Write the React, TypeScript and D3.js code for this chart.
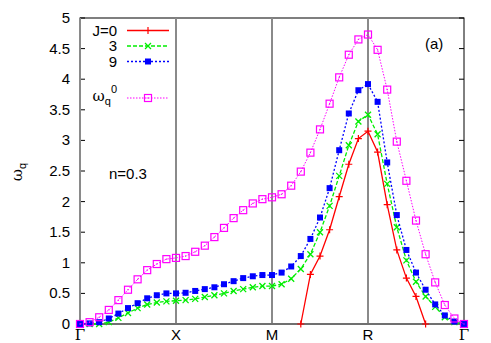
import React, { useEffect, useRef } from "react";
import * as d3 from "d3";

// k-path: 10 steps per segment, Γ-X-M-R-Γ
const kLabels = ["Γ", "X", "M", "R", "Γ"];
const kTicks = [0, 10, 20, 30, 40];
const yTicks = [0, 0.5, 1, 1.5, 2, 2.5, 3, 3.5, 4, 4.5, 5];

const j0 = [
  null, null, null, null, null, null, null, null, null, null, null,
  null, null, null, null, null, null, null, null, null, null,
  null, null, 0, 0.81, 1.11, 1.54, 2.08, 2.61, 3.03, 3.15,
  2.81, 1.95, 1.21, 0.75, 0.45, 0, null, null, null, null,
];
const j3 = [
  0, 0, 0, 0.03, 0.1, 0.18, 0.26, 0.32, 0.35, 0.37, 0.38,
  0.39, 0.41, 0.44, 0.47, 0.5, 0.54, 0.57, 0.6, 0.62, 0.62,
  0.65, 0.74, 0.9, 1.14, 1.5, 1.93, 2.42, 2.92, 3.31, 3.42,
  3.1, 2.29, 1.58, 1.04, 0.69, 0.45, 0.28, 0.11, 0.03, 0,
];
const j9 = [
  0, 0.01, 0.03, 0.09, 0.17, 0.26, 0.34, 0.42, 0.47, 0.5, 0.5,
  0.51, 0.54, 0.57, 0.6, 0.65, 0.7, 0.75, 0.78, 0.8, 0.8,
  0.84, 0.94, 1.11, 1.39, 1.74, 2.22, 2.84, 3.44, 3.82, 3.92,
  3.63, 2.64, 1.78, 1.21, 0.84, 0.56, 0.32, 0.14, 0.04, 0,
];
const omega0 = [
  0, 0.03, 0.11, 0.23, 0.39, 0.56, 0.73, 0.88, 0.98, 1.06, 1.08,
  1.11, 1.18, 1.28, 1.42, 1.57, 1.73, 1.86, 1.97, 2.04, 2.07,
  2.12, 2.26, 2.49, 2.8, 3.18, 3.6, 4.03, 4.4, 4.65, 4.73,
  4.48, 3.83, 2.98, 2.34, 1.69, 1.14, 0.68, 0.31, 0.09, 0,
];

const series = [
  { name: "J=0", values: j0, color: "#ff0000", dash: null, marker: "plus" },
  { name: "3", values: j3, color: "#00ee00", dash: "4,2", marker: "cross" },
  { name: "9", values: j9, color: "#0000ff", dash: "2,2", marker: "fsquare" },
  { name: "omega0", values: omega0, color: "#ff00ff", dash: "1.5,1.5", marker: "osquare" },
];

const font = "'Liberation Sans', Arial, sans-serif";

const App = () => {
  const ref = useRef(null);

  useEffect(() => {
    drawChart();
  }, []);

  const drawChart = () => {
    const width = 491,
      height = 343;
    const left = 80,
      right = 464,
      top = 18,
      bottom = 324;

    const svg = d3
      .select(ref.current)
      .html("")
      .append("svg")
      .attr("width", width)
      .attr("height", height)
      .style("position", "absolute")
      .style("left", 0)
      .style("top", 0)
      .style("background", "#fff");

    const x = d3.scaleLinear().domain([0, 40]).range([left, right]);
    const y = d3.scaleLinear().domain([0, 5]).range([bottom, top]);

    // border
    svg
      .append("rect")
      .attr("x", left)
      .attr("y", top)
      .attr("width", right - left)
      .attr("height", bottom - top)
      .attr("fill", "none")
      .attr("stroke", "#000")
      .attr("stroke-width", 1);

    // y ticks both sides
    yTicks.forEach((t) => {
      svg.append("line").attr("x1", left).attr("x2", left + 5)
        .attr("y1", y(t)).attr("y2", y(t)).attr("stroke", "#000");
      svg.append("line").attr("x1", right - 5).attr("x2", right)
        .attr("y1", y(t)).attr("y2", y(t)).attr("stroke", "#000");
      svg.append("text")
        .attr("x", 70)
        .attr("y", y(t) + 5)
        .attr("text-anchor", "end")
        .style("font-family", font)
        .style("font-size", "15px")
        .text(String(t));
    });

    // symmetry-point lines
    kTicks.slice(0, 4).forEach((k) => {
      svg.append("line")
        .attr("x1", x(k)).attr("x2", x(k))
        .attr("y1", top).attr("y2", bottom)
        .attr("stroke", "#8a8a8a")
        .attr("stroke-width", 2);
    });
    svg.append("line")
      .attr("x1", left).attr("x2", right)
      .attr("y1", bottom).attr("y2", bottom)
      .attr("stroke", "#707070")
      .attr("stroke-width", 2);

    const drawMarker = (g, type, cx, cy, color) => {
      if (type === "plus") {
        g.append("path")
          .attr("d", `M${cx - 3.5},${cy}H${cx + 3.5}M${cx},${cy - 3.5}V${cy + 3.5}`)
          .attr("stroke", color).attr("stroke-width", 1.2);
      } else if (type === "cross") {
        g.append("path")
          .attr("d", `M${cx - 3},${cy - 3}L${cx + 3},${cy + 3}M${cx - 3},${cy + 3}L${cx + 3},${cy - 3}`)
          .attr("stroke", color).attr("stroke-width", 1.3);
      } else if (type === "fsquare") {
        g.append("rect")
          .attr("x", cx - 3).attr("y", cy - 3).attr("width", 6).attr("height", 6)
          .attr("fill", color);
      } else {
        g.append("rect")
          .attr("x", cx - 3.5).attr("y", cy - 3.5).attr("width", 7).attr("height", 7)
          .attr("fill", "none").attr("stroke", color).attr("stroke-width", 1.2);
        g.append("rect")
          .attr("x", cx - 0.6).attr("y", cy - 0.6).attr("width", 1.2).attr("height", 1.2)
          .attr("fill", color);
      }
    };

    const line = d3
      .line()
      .defined((d) => d != null)
      .x((d, i) => x(i))
      .y((d) => y(d));

    series.forEach((s) => {
      const g = svg.append("g");
      g.append("path")
        .attr("d", line(s.values))
        .attr("fill", "none")
        .attr("stroke", s.color)
        .attr("stroke-width", s.marker === "osquare" ? 1 : 1.3)
        .attr("stroke-dasharray", s.dash);
      s.values.forEach((v, i) => {
        if (v != null) drawMarker(g, s.marker, x(i), y(v), s.color);
      });
    });

    // k-point labels on top of everything
    kTicks.forEach((k, i) => {
      svg.append("text")
        .attr("x", x(k))
        .attr("y", 340)
        .attr("text-anchor", "middle")
        .style("font-family", kLabels[i] === "Γ" ? "'DejaVu Serif', serif" : font)
        .style("font-size", "15px")
        .text(kLabels[i]);
    });

    // legend
    const rows = [30.5, 46, 61.5, 98];
    series.forEach((s, i) => {
      const g = svg.append("g");
      g.append("line")
        .attr("x1", 127).attr("x2", 169)
        .attr("y1", rows[i]).attr("y2", rows[i])
        .attr("stroke", s.color)
        .attr("stroke-width", s.marker === "osquare" ? 1 : 1.3)
        .attr("stroke-dasharray", s.dash);
      drawMarker(g, s.marker, 148, rows[i], s.color);
      if (s.name === "omega0") {
        const t = g.append("text")
          .attr("x", 117)
          .attr("y", rows[i] + 3)
          .attr("text-anchor", "end")
          .style("font-family", font)
          .style("font-size", "15px");
        t.append("tspan").style("font-family", "'DejaVu Serif', serif").text("ω");
        t.append("tspan").attr("dy", 4).style("font-size", "11px").text("q");
        t.append("tspan").attr("dy", -12).style("font-size", "11px").text("0");
      } else {
        g.append("text")
          .attr("x", 117)
          .attr("y", rows[i] + 5)
          .attr("text-anchor", "end")
          .style("font-family", font)
          .style("font-size", "15px")
          .text(s.name);
      }
    });

    // y-axis label
    const yl = svg.append("text")
      .attr("transform", "translate(22,172) rotate(-90)")
      .attr("text-anchor", "middle")
      .style("font-family", font)
      .style("font-size", "15px");
    yl.append("tspan").style("font-family", "'DejaVu Serif', serif").text("ω");
    yl.append("tspan").attr("dy", 4).style("font-size", "11px").text("q");

    svg.append("text")
      .attr("x", 109).attr("y", 179)
      .style("font-family", font)
      .style("font-size", "15px")
      .text("n=0.3");

    svg.append("text")
      .attr("x", 425).attr("y", 49)
      .style("font-family", font)
      .style("font-size", "15px")
      .text("(a)");
  };

  return <div ref={ref}></div>;
};

export default App;
